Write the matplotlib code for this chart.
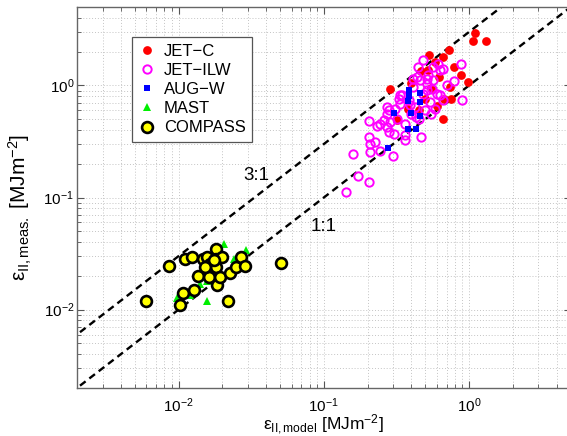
import matplotlib
matplotlib.use('Agg')
import matplotlib.pyplot as plt
import numpy as np

plt.rcParams['font.family'] = ['Liberation Sans', 'DejaVu Sans']
plt.rcParams['mathtext.fontset'] = 'custom'
plt.rcParams['mathtext.rm'] = 'Liberation Sans'
plt.rcParams['mathtext.it'] = 'Liberation Sans:italic'
plt.rcParams['mathtext.bf'] = 'Liberation Sans:bold'

# energy density: model vs measured [MJ m^-2]
jetc_model = [1.09, 1.06, 1.31, 0.533, 0.666, 0.732, 0.584, 0.52, 0.792, 0.88,
              0.99, 0.74, 0.75, 0.666, 0.286, 0.398, 0.32, 0.50, 0.55, 0.45,
              0.60, 0.38, 0.62, 0.47, 0.67]
jetc_meas = [2.93, 2.49, 2.49, 1.88, 1.79, 2.05, 1.61, 1.36, 1.46, 1.23,
             1.07, 0.966, 0.76, 0.50, 0.93, 1.04, 0.49, 0.75, 0.95, 0.60,
             0.65, 0.62, 1.20, 1.35, 0.75]

ilw_model = [0.1415, 0.1726, 0.203, 0.1585, 0.2075, 0.243, 0.2975, 0.209, 0.205, 0.203,
             0.234, 0.281, 0.306, 0.363, 0.47, 0.2235, 0.244, 0.2576, 0.272, 0.279,
             0.31, 0.286, 0.272, 0.318, 0.336, 0.327, 0.345, 0.383, 0.393, 0.4256,
             0.363, 0.414, 0.46, 0.512, 0.5545, 0.60, 0.485, 0.54, 0.584, 0.437,
             0.568, 0.881, 0.789, 0.632, 0.615, 0.568, 0.485, 0.448, 0.414, 0.512,
             0.891, 0.632, 0.512, 0.336, 0.272, 0.666, 0.666, 0.432, 0.543, 0.40,
             0.45, 0.50, 0.36, 0.70, 0.52]
ilw_meas = [0.113, 0.157, 0.137, 0.242, 0.2536, 0.2575, 0.2357, 0.302, 0.345, 0.477,
            0.43, 0.383, 0.37, 0.323, 0.35, 0.312, 0.455, 0.487, 0.559, 0.598,
            0.62, 0.47, 0.424, 0.504, 0.687, 0.761, 0.814, 0.735, 0.663, 0.64,
            0.358, 0.966, 1.108, 1.035, 0.935, 0.843, 0.843, 0.71, 0.62, 1.186,
            1.108, 1.563, 1.086, 1.361, 1.563, 1.457, 1.672, 1.457, 1.148, 1.148,
            0.735, 0.814, 0.902, 0.814, 0.64, 1.41, 0.735, 0.52, 0.56, 0.56,
            0.50, 0.60, 0.45, 1.00, 1.25]

augw_model = [0.387, 0.385, 0.379, 0.457, 0.457, 0.306, 0.401, 0.457, 0.379, 0.432, 0.276]
augw_meas = [0.902, 0.80, 0.72, 0.854, 0.71, 0.566, 0.566, 0.529, 0.41, 0.41, 0.278]

mast_model = [0.0207, 0.0293, 0.0158, 0.0097, 0.01416, 0.01944, 0.01574, 0.017, 0.022,
              0.013, 0.019, 0.024, 0.012, 0.015]
mast_meas = [0.0386, 0.0341, 0.01186, 0.0126, 0.017, 0.0304, 0.01815, 0.025, 0.021,
             0.015, 0.035, 0.028, 0.0135, 0.022]

compass_model = [0.0060, 0.00857, 0.01027, 0.01076, 0.01107, 0.0124, 0.0128, 0.0136,
                 0.0147, 0.0158, 0.01655, 0.0163, 0.0182, 0.0182, 0.018, 0.0183,
                 0.0194, 0.0199, 0.022, 0.02254, 0.0249, 0.0267, 0.0286, 0.0505,
                 0.0174, 0.0152]
compass_meas = [0.0120, 0.0247, 0.0110, 0.0141, 0.0284, 0.0297, 0.015, 0.020,
                0.0284, 0.0293, 0.0256, 0.0194, 0.0348, 0.0284, 0.0239, 0.0166,
                0.0197, 0.0293, 0.01186, 0.0211, 0.0239, 0.0297, 0.0245, 0.0258,
                0.0275, 0.0239]

ratios = [3, 1]
ratio_labels = ['3:1', '1:1']
ratio_label_pos = [(0.0344, 0.157), (0.0992, 0.0554)]

fig = plt.figure(figsize=(5.67, 4.36), dpi=100)
ax = fig.add_axes([0.1358, 0.1101, 0.8707, 0.8738])

ax.set_xscale('log')
ax.set_yscale('log')
ax.set_xlim(2e-3, 5)
ax.set_ylim(2e-3, 5)

ax.grid(True, which='both', linestyle=(0, (1, 2)), color='#c4c4c4', linewidth=0.7)
ax.set_axisbelow(True)

xr = np.array([1e-3, 10])
for r in ratios:
    ax.plot(xr, r * xr, color='black', linestyle=(0, (3, 2)), linewidth=1.7, zorder=2)
for lab, (tx, ty) in zip(ratio_labels, ratio_label_pos):
    ax.text(tx, ty, lab, fontsize=13.5, ha='center', va='center')

ax.plot(jetc_model, jetc_meas, 'o', color='red', markersize=6.3, markeredgewidth=0,
        linestyle='none', label='JET\u2212C', zorder=3)
ax.plot(ilw_model, ilw_meas, 'o', markerfacecolor='none', markeredgecolor='#ff00ff',
        markersize=6, markeredgewidth=1.4, linestyle='none', label='JET\u2212ILW', zorder=3)
ax.plot(augw_model, augw_meas, 's', color='#0000ff', markersize=4.5, markeredgewidth=0,
        linestyle='none', label='AUG\u2212W', zorder=3)
ax.plot(mast_model, mast_meas, '^', color='#00ee00', markersize=6, markeredgewidth=0,
        linestyle='none', label='MAST', zorder=3)
ax.plot(compass_model, compass_meas, 'o', markerfacecolor='#ffff00', markeredgecolor='black',
        markersize=7.8, markeredgewidth=1.9, linestyle='none', label='COMPASS', zorder=4)

ax.set_xticks([1e-2, 1e-1, 1e0])
ax.set_yticks([1e-2, 1e-1, 1e0])
ax.tick_params(which='both', direction='in', top=True, right=True, colors='#555555',
               labelcolor='black', labelsize=11)
ax.tick_params(which='major', length=5, width=0.8)
ax.tick_params(which='minor', length=3, width=0.6)
ax.tick_params(axis='x', which='major', pad=6)
ax.tick_params(axis='y', which='major', pad=2)
for s in ax.spines.values():
    s.set_color('#666666')
    s.set_linewidth(1.0)

ax.set_xlabel(r'$\mathrm{\varepsilon_{II,model}}$ [MJm$^{-2}$]', fontsize=12.5)
ax.set_ylabel(r'$\mathrm{\varepsilon_{II,meas.}}$ [MJm$^{-2}$]', fontsize=15)
ax.xaxis.set_label_coords(0.5, -0.066)
ax.yaxis.set_label_coords(-0.087, 0.474)

leg = ax.legend(loc='upper left', bbox_to_anchor=(0.1114, 0.921), borderaxespad=0,
                fontsize=12, fancybox=False, framealpha=1, edgecolor='#555555',
                handlelength=1.0, handletextpad=0.5, labelspacing=0.25, borderpad=0.4,
                numpoints=1)
leg.get_frame().set_linewidth(0.9)

fig.savefig('out.png', dpi=100)
